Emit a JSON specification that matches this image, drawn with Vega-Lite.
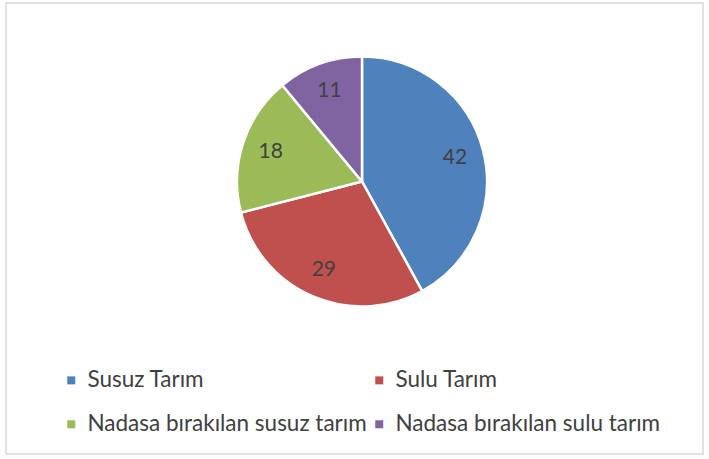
{
  "$schema": "https://vega.github.io/schema/vega-lite/v6.json",
  "width": 697,
  "height": 451,
  "autosize": "none",
  "padding": {"left": 6, "top": 3, "right": 6, "bottom": 5},
  "background": "white",
  "view": {"stroke": "#d9d9d9", "strokeWidth": 1.5},
  "config": {"view": {"stroke": "#d9d9d9", "strokeWidth": 1.5}},
  "data": {"values": [
    {"category": "Susuz Tarım", "value": 42, "idx": 1},
    {"category": "Sulu Tarım", "value": 29, "idx": 2},
    {"category": "Nadasa bırakılan susuz tarım", "value": 18, "idx": 3},
    {"category": "Nadasa bırakılan sulu tarım", "value": 11, "idx": 4}
  ]},
  "encoding": {
    "theta": {"field": "value", "type": "quantitative", "stack": true},
    "order": {"field": "idx", "type": "quantitative"}
  },
  "layer": [
    {
      "mark": {"type": "arc", "outerRadius": 125, "stroke": "white", "strokeWidth": 2.5, "xOffset": 7.5, "yOffset": -47},
      "encoding": {
        "color": {
          "field": "category", "type": "nominal",
          "scale": {"domain": ["Susuz Tarım", "Sulu Tarım", "Nadasa bırakılan susuz tarım", "Nadasa bırakılan sulu tarım"],
                    "range": ["#4F81BD", "#C0504D", "#9BBB59", "#8064A2"]},
          "legend": {
            "title": null, "orient": "none", "legendX": 54, "legendY": 366, "columns": 2, "direction": "horizontal",
            "symbolType": "square", "symbolSize": 64, "symbolStrokeWidth": 0,
            "labelFont": "Lato", "labelFontSize": 22.5, "labelColor": "#404040",
            "labelLimit": 400, "columnPadding": 1, "rowPadding": 21, "labelOffset": 5
          }
        }
      }
    },
    {
      "mark": {"type": "text", "radius": 96, "xOffset": 7.5, "yOffset": -47, "font": "Lato", "fontSize": 21, "color": "#404040"},
      "encoding": {"text": {"field": "value", "type": "quantitative"}}
    }
  ]
}
